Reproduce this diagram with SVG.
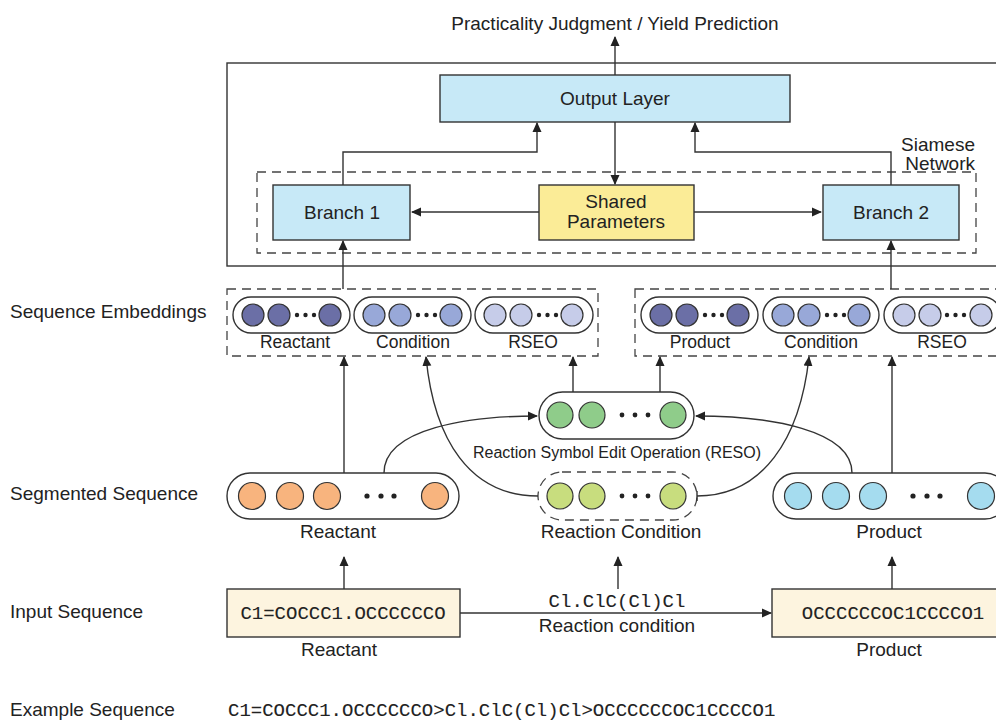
<svg xmlns="http://www.w3.org/2000/svg" width="996" height="721" viewBox="0 0 996 721">
<style>
  text { font-family: "Liberation Sans", Arial, sans-serif; fill: #222; }
  .lbl { font-size: 19px; }
  .mid { text-anchor: middle; }
  .emb { font-size: 17.5px; text-anchor: middle; }
  .mono { font-family: "Liberation Mono", "Courier New", monospace; font-size: 19px; stroke: #222; stroke-width: 0.1; }
  .box { stroke: #333; stroke-width: 1.4; }
  .cap { fill: #fff; stroke: #333; stroke-width: 1.4; }
  .dash { fill: none; stroke: #444; stroke-width: 1.3; stroke-dasharray: 9 6; }
  .ln { fill: none; stroke: #333; stroke-width: 1.4; }
  .c { stroke: #333; stroke-width: 1.2; }
  .dot { fill: #222; }
  .p1 { fill: #6B6FA6; } .p2 { fill: #98A8D8; } .p3 { fill: #C6CCE9; }
</style>
<defs>
  <marker id="ah" markerWidth="10" markerHeight="10" refX="9" refY="5" orient="auto" markerUnits="userSpaceOnUse">
    <path d="M0,0.5 L10,5 L0,9.5 Z" fill="#222"/>
  </marker>
</defs>

<rect width="996" height="721" fill="#fff"/>

<!-- title -->
<text class="lbl mid" x="615" y="30">Practicality Judgment / Yield Prediction</text>

<!-- left labels -->
<text class="lbl" x="10" y="318">Sequence Embeddings</text>
<text class="lbl" x="10" y="500">Segmented Sequence</text>
<text class="lbl" x="10" y="618">Input Sequence</text>
<text class="lbl" x="10" y="716">Example Sequence</text>
<text class="mono" x="228" y="716">C1=COCCC1.OCCCCCCO&gt;Cl.ClC(Cl)Cl&gt;OCCCCCCOC1CCCCO1</text>

<!-- Siamese network container -->
<g id="siamese">
  <rect x="227" y="63" width="780" height="203" fill="none" stroke="#333" stroke-width="1.4"/>
  <rect class="dash" x="257" y="172" width="719" height="81"/>
  <text class="lbl" x="975" y="151" text-anchor="end">Siamese</text>
  <text class="lbl" x="975" y="170" text-anchor="end">Network</text>
</g>

<g id="output-layer">
  <rect class="box" x="440" y="75" width="350" height="47" fill="#C7E9F7"/>
  <text class="lbl mid" x="615" y="105">Output Layer</text>
</g>
<g id="branch1">
  <rect class="box" x="273" y="185" width="137" height="55" fill="#C7E9F7"/>
  <text class="lbl mid" x="342" y="219">Branch 1</text>
</g>
<g id="shared">
  <rect class="box" x="539" y="185" width="155" height="55" fill="#FBEC97"/>
  <text class="lbl mid" x="616" y="208">Shared</text>
  <text class="lbl mid" x="616" y="228">Parameters</text>
</g>
<g id="branch2">
  <rect class="box" x="823" y="185" width="136" height="55" fill="#C7E9F7"/>
  <text class="lbl mid" x="891" y="219">Branch 2</text>
</g>

<!-- Sequence embeddings left -->
<g id="emb-left">
  <rect class="dash" x="227" y="289" width="371" height="67"/>
  <rect class="cap" x="233" y="297" width="117" height="36" rx="18"/>
  <circle class="c p1" cx="253" cy="315" r="11"/><circle class="c p1" cx="279" cy="315" r="11"/><circle class="c p1" cx="330" cy="315" r="11"/>
  <circle class="dot" cx="297" cy="315" r="2.2"/><circle class="dot" cx="305.5" cy="315" r="2.2"/><circle class="dot" cx="314" cy="315" r="2.2"/>
  <rect class="cap" x="354" y="297" width="117" height="36" rx="18"/>
  <circle class="c p2" cx="374" cy="315" r="11"/><circle class="c p2" cx="400" cy="315" r="11"/><circle class="c p2" cx="451" cy="315" r="11"/>
  <circle class="dot" cx="418" cy="315" r="2.2"/><circle class="dot" cx="426.5" cy="315" r="2.2"/><circle class="dot" cx="435" cy="315" r="2.2"/>
  <rect class="cap" x="475" y="297" width="118" height="36" rx="18"/>
  <circle class="c p3" cx="495" cy="315" r="11"/><circle class="c p3" cx="521" cy="315" r="11"/><circle class="c p3" cx="572" cy="315" r="11"/>
  <circle class="dot" cx="539" cy="315" r="2.2"/><circle class="dot" cx="547.5" cy="315" r="2.2"/><circle class="dot" cx="556" cy="315" r="2.2"/>
  <text class="emb" x="295" y="348">Reactant</text>
  <text class="emb" x="413" y="348">Condition</text>
  <text class="emb" x="533" y="348">RSEO</text>
</g>

<!-- Sequence embeddings right -->
<g id="emb-right">
  <rect class="dash" x="635" y="289" width="380" height="67"/>
  <rect class="cap" x="641" y="297" width="117" height="36" rx="18"/>
  <circle class="c p1" cx="661" cy="315" r="11"/><circle class="c p1" cx="687" cy="315" r="11"/><circle class="c p1" cx="738" cy="315" r="11"/>
  <circle class="dot" cx="705" cy="315" r="2.2"/><circle class="dot" cx="713.5" cy="315" r="2.2"/><circle class="dot" cx="722" cy="315" r="2.2"/>
  <rect class="cap" x="763" y="297" width="116" height="36" rx="18"/>
  <circle class="c p2" cx="783" cy="315" r="11"/><circle class="c p2" cx="809" cy="315" r="11"/><circle class="c p2" cx="859" cy="315" r="11"/>
  <circle class="dot" cx="827" cy="315" r="2.2"/><circle class="dot" cx="835.5" cy="315" r="2.2"/><circle class="dot" cx="844" cy="315" r="2.2"/>
  <rect class="cap" x="884" y="297" width="117" height="36" rx="18"/>
  <circle class="c p3" cx="904" cy="315" r="11"/><circle class="c p3" cx="930" cy="315" r="11"/><circle class="c p3" cx="981" cy="315" r="11"/>
  <circle class="dot" cx="947" cy="315" r="2.2"/><circle class="dot" cx="955.5" cy="315" r="2.2"/><circle class="dot" cx="964" cy="315" r="2.2"/>
  <text class="emb" x="700" y="348">Product</text>
  <text class="emb" x="821" y="348">Condition</text>
  <text class="emb" x="942" y="348">RSEO</text>
</g>

<!-- RESO -->
<g id="reso">
  <rect class="cap" x="539" y="392" width="155" height="47" rx="23.5"/>
  <circle class="c" fill="#8FCC8A" cx="560" cy="415" r="13"/><circle class="c" fill="#8FCC8A" cx="592" cy="415" r="13"/><circle class="c" fill="#8FCC8A" cx="673" cy="415" r="13"/>
  <circle class="dot" cx="622" cy="415" r="2.4"/><circle class="dot" cx="635" cy="415" r="2.4"/><circle class="dot" cx="648" cy="415" r="2.4"/>
  <text class="mid" x="617" y="458" font-size="16">Reaction Symbol Edit Operation (RESO)</text>
</g>

<!-- Segmented: reactant -->
<g id="seg-reactant">
  <rect class="cap" x="227" y="473" width="232" height="46" rx="23"/>
  <circle class="c" fill="#F8B47E" cx="252" cy="496" r="13.5"/><circle class="c" fill="#F8B47E" cx="290" cy="496" r="13.5"/><circle class="c" fill="#F8B47E" cx="327" cy="496" r="13.5"/><circle class="c" fill="#F8B47E" cx="435" cy="496" r="13.5"/>
  <circle class="dot" cx="367" cy="496" r="2.6"/><circle class="dot" cx="381" cy="496" r="2.6"/><circle class="dot" cx="394" cy="496" r="2.6"/>
  <text class="lbl mid" x="338" y="538">Reactant</text>
</g>

<!-- Segmented: reaction condition -->
<g id="seg-condition">
  <rect class="dash" x="538" y="472" width="159" height="48" rx="24"/>
  <circle class="c" fill="#C8DD7E" cx="560" cy="496" r="13"/><circle class="c" fill="#C8DD7E" cx="592" cy="496" r="13"/><circle class="c" fill="#C8DD7E" cx="673" cy="496" r="13"/>
  <circle class="dot" cx="622" cy="496" r="2.4"/><circle class="dot" cx="635" cy="496" r="2.4"/><circle class="dot" cx="648" cy="496" r="2.4"/>
  <text class="lbl mid" x="621" y="538">Reaction Condition</text>
</g>

<!-- Segmented: product -->
<g id="seg-product">
  <rect class="cap" x="773" y="473" width="235" height="46" rx="23"/>
  <circle class="c" fill="#A5DCEF" cx="798" cy="496" r="13.5"/><circle class="c" fill="#A5DCEF" cx="836" cy="496" r="13.5"/><circle class="c" fill="#A5DCEF" cx="873" cy="496" r="13.5"/><circle class="c" fill="#A5DCEF" cx="981" cy="496" r="13.5"/>
  <circle class="dot" cx="913" cy="496" r="2.6"/><circle class="dot" cx="927" cy="496" r="2.6"/><circle class="dot" cx="940" cy="496" r="2.6"/>
  <text class="lbl mid" x="889" y="538">Product</text>
</g>

<!-- Input sequence -->
<g id="in-reactant">
  <rect class="box" x="227" y="589" width="233" height="48" fill="#FDF4DF"/>
  <text class="mono mid" x="343" y="619">C1=COCCC1.OCCCCCCO</text>
  <text class="lbl mid" x="339" y="656">Reactant</text>
</g>
<g id="in-product">
  <rect class="box" x="772" y="589" width="236" height="48" fill="#FDF4DF"/>
  <text class="mono mid" x="893" y="619">OCCCCCCOC1CCCCO1</text>
  <text class="lbl mid" x="889" y="656">Product</text>
</g>
<g id="in-condition">
  <text class="mono mid" x="617" y="607">Cl.ClC(Cl)Cl</text>
  <text class="lbl mid" x="617" y="632">Reaction condition</text>
</g>

<!-- connectors -->
<g id="connectors" class="ln">
  <path d="M615,75 V37" marker-end="url(#ah)"/>
  <path d="M615,122 V184" marker-end="url(#ah)"/>
  <path d="M539,212 H412" marker-end="url(#ah)"/>
  <path d="M694,212 H821" marker-end="url(#ah)"/>
  <path d="M343,185 V152 H537 V123" marker-end="url(#ah)"/>
  <path d="M891,185 V152 H695 V123" marker-end="url(#ah)"/>
  <path d="M343,289 V241" marker-end="url(#ah)"/>
  <path d="M891,289 V241" marker-end="url(#ah)"/>
  <path d="M344,473 V357" marker-end="url(#ah)"/>
  <path d="M892,473 V357" marker-end="url(#ah)"/>
  <path d="M573,392 V357" marker-end="url(#ah)"/>
  <path d="M660,392 V357" marker-end="url(#ah)"/>
  <path d="M384,473 C384,428 470,416 537,416" marker-end="url(#ah)"/>
  <path d="M852,473 C852,430 770,416 696,416" marker-end="url(#ah)"/>
  <path d="M538,496 C470,496 434,440 426,357" marker-end="url(#ah)"/>
  <path d="M697,496 C762,496 800,440 809,357" marker-end="url(#ah)"/>
  <path d="M697,491 V501"/>
  <path d="M344,589 V557" marker-end="url(#ah)"/>
  <path d="M892,589 V557" marker-end="url(#ah)"/>
  <path d="M618,589 V557" marker-end="url(#ah)"/>
  <path d="M460,613 H771" marker-end="url(#ah)"/>
</g>
</svg>
